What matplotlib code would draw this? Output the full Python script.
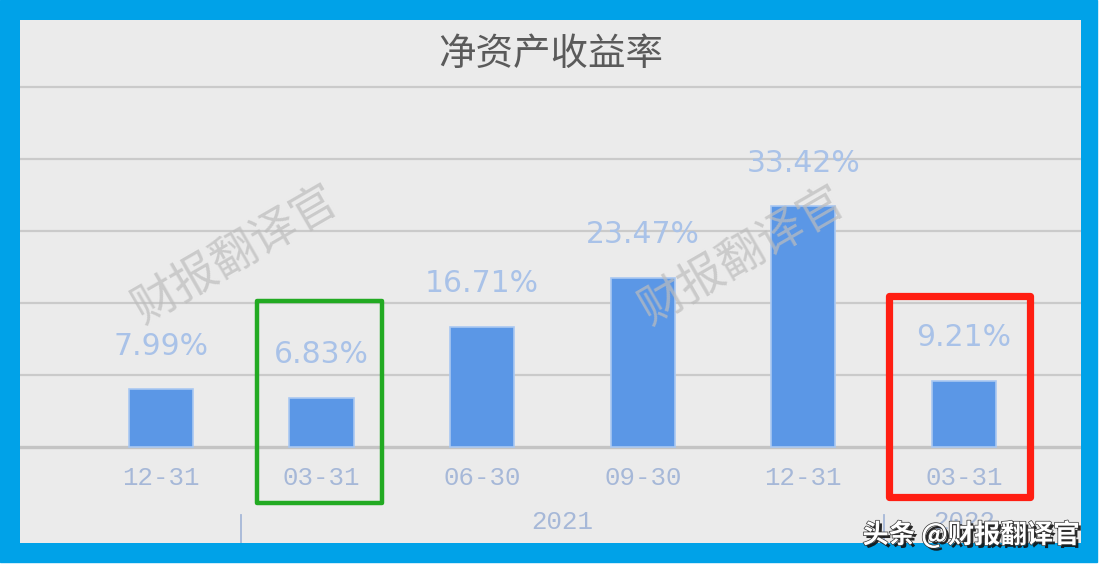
import matplotlib
matplotlib.use("Agg")
import matplotlib.pyplot as plt
from matplotlib.patches import Rectangle
import matplotlib.patheffects as pe

plt.rcParams['font.family'] = ['Noto Sans CJK SC', 'DejaVu Sans']

# 数据
dates = ['12-31', '03-31', '06-30', '09-30', '12-31', '03-31']
roe = [7.99, 6.83, 16.71, 23.47, 33.42, 9.21]
years = ['2021', '2022']
year_pos = [2.5, 5]       # 年份标签所在的位置
year_breaks = [0.5, 4.5]  # 年份分隔线
grid_vals = [10, 20, 30, 40, 50]

W, H = 1104, 567
fig = plt.figure(figsize=(W / 100, H / 100), dpi=100)
fig.patch.set_facecolor('white')

# 蓝色外框 + 灰色底
fig.add_artist(Rectangle((0, (H - 562) / H), 1097 / W, 562 / H,
                         transform=fig.transFigure, color='#00A2E8', zorder=0))
ax = fig.add_axes([20 / W, (H - 543) / H, 1061 / W, 523 / H])
ax.set_facecolor('#EBEBEB')
ax.set_xlim(-0.878, 5.729)
ax.set_ylim(-13.33, 59.31)
for s in ax.spines.values():
    s.set_visible(False)
ax.set_xticks([])
ax.set_yticks([])

for g in grid_vals:
    ax.axhline(g, color='#CACACA', lw=1.6, zorder=1)
ax.axhline(0, color='#C4C4C4', lw=2.4, zorder=1)

x = list(range(len(roe)))
ax.bar(x, roe, width=0.4, color='#5B97E6', edgecolor='#A9C8F2', lw=1.2, zorder=3)

for xi, v in zip(x, roe):
    ax.annotate(f'{v:.2f}%', (xi, v), xytext=(0, 31), textcoords='offset points',
                ha='center', va='center', fontsize=21.5, color='#A9C2E8',
                family='DejaVu Sans', zorder=4)

for xi, d in zip(x, dates):
    ax.text(xi, -4.3, d, ha='center', va='center', fontsize=18.5,
            color='#A6B8D8', family='Liberation Mono', zorder=4)

for xp, y in zip(year_pos, years):
    ax.text(xp, -10.4, y, ha='center', va='center', fontsize=18.5,
            color='#A6B8D8', family='Liberation Mono', zorder=4)
for xb in year_breaks:
    ax.plot([xb, xb], [-9.4, -13.4], color='#A6B8D8', lw=1.3, zorder=4)

# 标题
ax.text(0.5, 1 - 34 / 523, '净资产收益率', transform=ax.transAxes, ha='center',
        va='center', fontsize=27, color='#5A5A5A', zorder=5)

# 水印
for wx, wy in [(0.46, 26.7), (3.62, 26.6)]:
    ax.text(wx, wy, '财报翻译官', rotation=30, ha='center', va='center',
            fontsize=33, color='#BDBDBD', alpha=0.7, zorder=5)

# 高亮框
ax.add_patch(Rectangle((0.598, -7.78), 0.778, 28.06, fill=False,
                       edgecolor='#22AA22', lw=3.2, joinstyle='round',
                       clip_on=False, zorder=6))
ax.add_patch(Rectangle((4.533, -6.94), 0.878, 27.9, fill=False,
                       edgecolor='#FF1E12', lw=5.2, joinstyle='round',
                       clip_on=False, zorder=6))

fig.text(971 / W, (H - 535) / H, '头条 @财报翻译官', ha='center', va='center',
         fontsize=19, color='white', weight='bold', zorder=10,
         path_effects=[pe.withSimplePatchShadow(offset=(2, -2),
                                                shadow_rgbFace='#111111', alpha=0.9),
                       pe.Stroke(linewidth=1.0, foreground='#333333'), pe.Normal()])

fig.savefig('out.png', dpi=100)
